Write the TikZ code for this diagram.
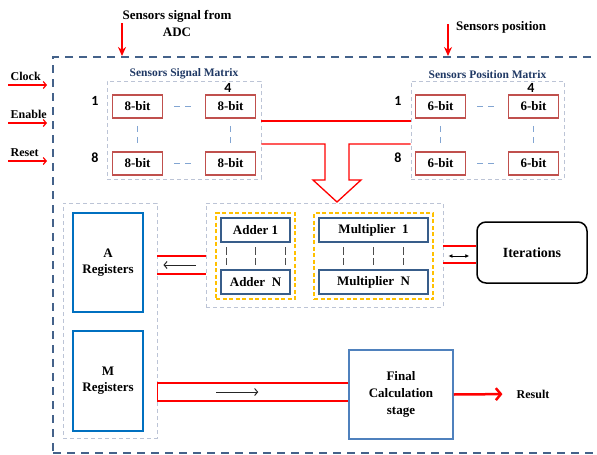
\documentclass[tikz,border=0pt]{standalone}
\usepackage{fontspec}
\setmainfont{Liberation Serif}
\newfontfamily\numfont{Carlito}
\usetikzlibrary{arrows.meta,positioning,calc}
\definecolor{frameblue}{RGB}{68,98,138}
\definecolor{grayline}{RGB}{188,196,214}
\definecolor{cellred}{RGB}{192,80,77}
\definecolor{dashblue}{RGB}{130,165,210}
\definecolor{unitblue}{RGB}{56,93,138}
\definecolor{regblue}{RGB}{0,112,192}
\definecolor{calcblue}{RGB}{79,129,189}
\definecolor{gold}{RGB}{255,192,0}
\definecolor{titlenavy}{RGB}{31,56,100}
\tikzset{
  frame/.style={draw=frameblue, line width=2pt, dash pattern=on 8pt off 6pt, inner sep=0, minimum width=554pt, minimum height=396pt},
  group/.style={draw=grayline, line width=0.9pt, dash pattern=on 4pt off 3pt, inner sep=0},
  cell/.style={draw=cellred, line width=1.6pt, minimum width=50pt, minimum height=23pt, inner sep=0, font=\bfseries\fontsize{13}{15}\selectfont},
  unit/.style={draw=unitblue, line width=2pt, minimum height=24pt, inner sep=0, font=\bfseries\fontsize{13}{15}\selectfont},
  bank/.style={draw=gold, line width=1.8pt, dash pattern=on 4pt off 2.5pt, minimum height=86pt, inner sep=0},
  reg/.style={draw=regblue, line width=1.8pt, minimum width=70pt, align=center, inner sep=0, font=\bfseries\fontsize{13}{16}\selectfont},
  calc/.style={draw=calcblue, line width=1.5pt, align=center, inner sep=0, font=\bfseries\fontsize{13}{17}\selectfont},
  loopbox/.style={draw=black, line width=1.5pt, rounded corners=9pt, inner sep=0, font=\bfseries\fontsize{14}{16}\selectfont},
  title/.style={text=titlenavy, inner sep=1.5pt, font=\bfseries\fontsize{11.5}{13}\selectfont},
  idx/.style={inner sep=0, font=\numfont\bfseries\fontsize{14}{16}\selectfont},
  sig/.style={inner sep=1pt, align=center, font=\bfseries\fontsize{12}{14}\selectfont},
  big/.style={sig, font=\bfseries\fontsize{13}{17}\selectfont},
  bus/.style={draw=red, line width=1.3pt},
  inarrow/.style={-{Straight Barb[length=3pt,width=7pt]}, draw=red, line width=1.2pt},
  feed/.style={-{Stealth[length=9pt,width=8pt]}, draw=red, line width=2pt},
  outarrow/.style={-{Straight Barb[length=5pt,width=12pt]}, draw=red, line width=2.5pt},
  flow/.style={-{Straight Barb[length=3pt,width=7pt]}, draw=black!85, line width=1pt},
  swap/.style={{Latex[length=4pt,width=4pt]}-{Latex[length=4pt,width=4pt]}, draw=black, line width=1pt},
  gap/.style={draw=dashblue, line width=1pt, dash pattern=on 6pt off 5pt},
  tick/.style={draw=black!70, line width=0.8pt, dash pattern=on 8pt off 3pt, shorten <=4pt, shorten >=4pt}
}
\begin{document}
\begin{tikzpicture}[x=1pt,y=-1pt]
\useasboundingbox (0,0) rectangle (597,455);
\node[frame] (core) at (330,255) {};

\node[big] (adc) at (177,23.5) {Sensors signal from\\ADC};
\coordinate (adcin) at (122,23);
\draw[feed] (adcin) -- (adcin |- core.north);
\node[big,anchor=west] (pos) at (455,27) {Sensors position};
\coordinate (posin) at (448,24);
\draw[feed] (posin) -- (posin |- core.north);

\foreach \name/\txt/\y in {clk/Clock/85,en/Enable/123,rst/Reset/161}{
  \coordinate (\name) at (8,\y);
  \node[sig,anchor=south west,xshift=1.5pt,yshift=3pt] (\name txt) at (\name) {\txt};
  \draw[inarrow,shorten >=5pt] (\name) -- (\name -| core.west);
}

\node[group,minimum width=154pt,minimum height=98pt] (sigmat) at (184,130) {};
\node[title,above=0pt of sigmat] {Sensors Signal Matrix};
\node[cell] (s11) at (137.5,106.5) {8-bit};
\node[cell] (s14) at (230.5,106.5) {8-bit};
\node[cell] (s81) at (137.5,163.5) {8-bit};
\node[cell] (s84) at (230.5,163.5) {8-bit};
\node[idx] (si1) at (95,101) {1};
\node[idx] (si8) at (95,158) {8};
\node[idx] (si4) at (228,88) {4};

\node[group,minimum width=153pt,minimum height=98pt] (posmat) at (487.5,130) {};
\node[title,above=0pt of posmat] {Sensors Position Matrix};
\node[cell] (p11) at (440.5,106.5) {6-bit};
\node[cell] (p14) at (533.5,106.5) {6-bit};
\node[cell] (p81) at (440.5,163.5) {6-bit};
\node[cell] (p84) at (533.5,163.5) {6-bit};
\node[idx] (pi1) at (398,101) {1};
\node[idx] (pi8) at (398,158) {8};
\node[idx] (pi4) at (531,88) {4};

\foreach \m in {s,p}{
  \draw[gap,shorten <=11pt,shorten >=13pt] (\m11.east) -- (\m14.west);
  \draw[gap,shorten <=11pt,shorten >=13pt] (\m81.east) -- (\m84.west);
  \draw[gap,shorten <=7pt,shorten >=7pt] (\m11.south) -- (\m81.north);
  \draw[gap,shorten <=7pt,shorten >=7pt] (\m14.south) -- (\m84.north);
}

\draw[bus] (sigmat.east |- 0,121) -- (posmat.west |- 0,121);
\draw[bus] (sigmat.east |- 0,144) -- (325,144) -- (325,180) -- (313,180) -- (337,202)
  -- (361,180) -- (349,180) -- (349,144) -- (posmat.west |- 0,144);

\node[group,minimum width=94pt,minimum height=235pt] (regbox) at (110,320.5) {};
\node[reg,minimum height=99pt] (areg) at (108,262.5) {A\\Registers};
\node[reg,minimum height=100pt] (mreg) at (108,381) {M\\Registers};

\node[group,minimum width=237pt,minimum height=104pt] (alubox) at (324.5,255) {};
\node[bank,minimum width=79pt] (addbox) at (255.5,256) {};
\node[bank,minimum width=119pt] (mulbox) at (373.5,256) {};
\node[unit,minimum width=69pt] (add1) at (255.5,230) {Adder 1};
\node[unit,minimum width=69pt] (addN) at (255.5,282) {Adder~ N};
\node[unit,minimum width=109pt] (mul1) at (373.5,230) {Multiplier~ 1};
\node[unit,minimum width=109pt] (mulN) at (373.5,282) {Multiplier~ N};
\foreach \dx in {-29.5,0,29.5}
  \draw[tick] ([xshift=\dx pt]add1.south) -- ([xshift=\dx pt]addN.north);
\foreach \dx in {-30,0,30}
  \draw[tick] ([xshift=\dx pt]mul1.south) -- ([xshift=\dx pt]mulN.north);

\node[loopbox,minimum width=110pt,minimum height=61pt] (iter) at (532,252.5) {Iterations};
\node[calc,minimum width=104pt,minimum height=89pt] (final) at (401,394.5) {Final\\Calculation\\stage};
\node[sig] (result) at (533,394) {Result};

\draw[bus] (regbox.east |- 0,256) -- (alubox.west |- 0,256);
\draw[bus] (regbox.east |- 0,274) -- (alubox.west |- 0,274);
\draw[flow,shorten <=10pt,shorten >=6pt] (alubox.west |- 0,265) -- (regbox.east |- 0,265);

\draw[bus] (alubox.east |- 0,246) -- (iter.west |- 0,246);
\draw[bus] (alubox.east |- 0,263) -- (iter.west |- 0,263);
\draw[swap,shorten <=5pt,shorten >=7pt] (alubox.east |- 0,256) -- (iter.west |- 0,256);

\draw[bus] (final.west |- 0,383) -- (regbox.east |- 0,383) -- (regbox.east |- 0,401) -- (final.west |- 0,401);
\draw[flow,shorten <=59pt,shorten >=90pt] (regbox.east |- 0,392) -- (final.west |- 0,392);

\draw[outarrow,shorten >=13pt] (final.east) -- (result.west);
\end{tikzpicture}
\end{document}
